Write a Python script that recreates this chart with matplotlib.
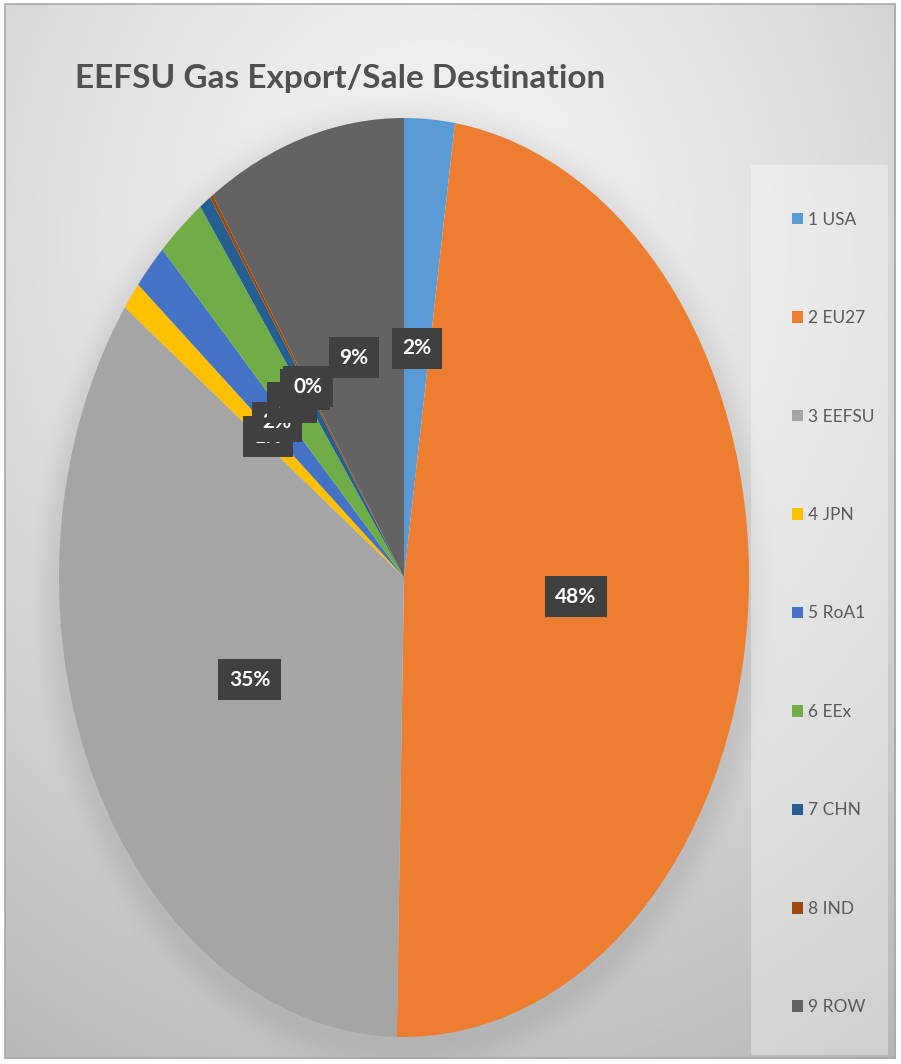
import matplotlib
matplotlib.use("Agg")
import matplotlib.pyplot as plt
import numpy as np
from matplotlib import font_manager
from matplotlib.patches import Rectangle

# share of EEFSU gas exports / sales by destination (%)
regions = ["1 USA", "2 EU27", "3 EEFSU", "4 JPN", "5 RoA1",
           "6 EEx", "7 CHN", "8 IND", "9 ROW"]
shares = [2.36, 47.97, 34.67, 1.00, 1.65, 2.30, 0.55, 0.15, 9.35]
colors = ["#5B9BD5", "#ED7D31", "#A5A5A5", "#FFC000", "#4472C4",
          "#70AD47", "#255E91", "#9E480E", "#636363"]
title = "EEFSU Gas Export/Sale Destination"


def pick_font(names):
    have = {f.name for f in font_manager.fontManager.ttflist}
    for n in names:
        if n in have:
            return n
    return "DejaVu Sans"


narrow = pick_font(["Liberation Sans Narrow", "Lato", "Open Sans"])
title_font = pick_font(["Lato", "Open Sans"])

W, H = 901, 1064
fig = plt.figure(figsize=(W / 100, H / 100), dpi=100)

# gray radial backdrop with a soft shadow under the pie
bg = fig.add_axes([0, 0, 1, 1], zorder=0)
yy, xx = np.mgrid[0:H, 0:W].astype(float)
r = np.hypot((xx - 430) / 760, (yy - 240) / 880)
shade = 0.965 - 0.22 * np.clip(r, 0, 1.2) ** 1.3
cx, cy, rx, ry = 404, 585, 352, 468
d = np.hypot((xx - cx) / rx, (yy - cy) / ry)
shade -= 0.07 * np.exp(-((d - 0.98) / 0.05) ** 2) * (d > 0.9)
img = np.dstack([shade] * 3)
inside = (xx >= 5) & (xx <= 895) & (yy >= 4) & (yy <= 1058)
img[~inside] = 1.0
bg.imshow(np.clip(img, 0, 1), extent=(0, W, H, 0), aspect="auto",
          interpolation="bilinear")
bg.add_patch(Rectangle((5, 4), 890, 1054, fill=False, ec="#a8a8a8", lw=1.2))
bg.add_patch(Rectangle((751, 165), 137, 890, fc="white", alpha=0.35, ec="none"))
bg.set_xlim(0, W)
bg.set_ylim(H, 0)
bg.axis("off")

bg.text(75, 88, title, fontsize=24, fontweight="bold", family=title_font,
        color="#505050", va="baseline", ha="left")

# pie stretched into an ellipse
ax = fig.add_axes([59 / W, (H - 1037) / H, 690 / W, 919 / H], zorder=2)
wedges, _, pct = ax.pie(
    shares, colors=colors, startangle=90, counterclock=False,
    autopct="%1.0f%%", pctdistance=0.5,
    wedgeprops=dict(linewidth=0),
    textprops=dict(color="white", fontsize=15, fontweight="bold",
                   family=narrow),
)
for t in pct:
    t.set_bbox(dict(boxstyle="square,pad=0.5", fc="#404040", ec="none"))
ax.set_aspect("auto")
ax.set_xlim(-1, 1)
ax.set_ylim(-1, 1)
ax.axis("off")

leg = fig.legend(wedges, regions, loc="upper left",
                 bbox_to_anchor=(776 / W, 1 - 196 / H), frameon=False,
                 prop=dict(family=narrow, size=12.5), labelcolor="#595959",
                 handlelength=0.65, handleheight=0.65, handletextpad=0.3,
                 labelspacing=4.75)

fig.savefig("out.png", dpi=100)
